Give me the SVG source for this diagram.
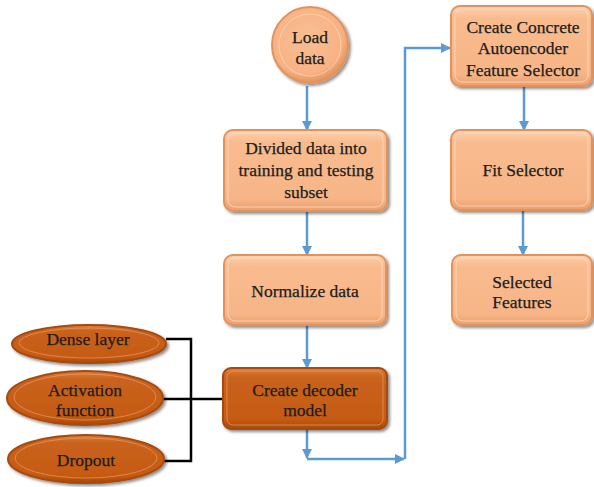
<svg xmlns="http://www.w3.org/2000/svg" width="594" height="487" viewBox="0 0 594 487">
<defs>
<linearGradient id="lg" x1="0" y1="0" x2="0" y2="1">
<stop offset="0" stop-color="#FDD3B2"/>
<stop offset="0.15" stop-color="#F9BB8E"/>
<stop offset="0.85" stop-color="#F7B587"/>
<stop offset="1" stop-color="#E99E6C"/>
</linearGradient>
<linearGradient id="dg" x1="0" y1="0" x2="0" y2="1">
<stop offset="0" stop-color="#E0803F"/>
<stop offset="0.15" stop-color="#C9631E"/>
<stop offset="0.85" stop-color="#C55A11"/>
<stop offset="1" stop-color="#A54A0C"/>
</linearGradient>
<radialGradient id="cg" cx="0.45" cy="0.4" r="0.6">
<stop offset="0" stop-color="#F9BE93"/>
<stop offset="0.8" stop-color="#F7B284"/>
<stop offset="1" stop-color="#E0925C"/>
</radialGradient>
<filter id="sh" x="-10%" y="-10%" width="125%" height="130%">
<feGaussianBlur in="SourceAlpha" stdDeviation="1.5"/>
<feOffset dx="1.5" dy="2" result="b"/>
<feComponentTransfer><feFuncA type="linear" slope="0.45"/></feComponentTransfer>
<feMerge><feMergeNode/><feMergeNode in="SourceGraphic"/></feMerge>
</filter>
<marker id="ah" viewBox="0 0 10 10" refX="9" refY="5" markerWidth="4" markerHeight="4" orient="auto">
<path d="M0,0 L10,5 L0,10 z" fill="#5B9BD5"/>
</marker>
</defs>
<style>
.lb{fill:url(#lg);stroke:#E4925A;stroke-width:2;filter:url(#sh)}
.db{fill:url(#dg);stroke:#A8490B;stroke-width:2;filter:url(#sh)}
.hl{fill:none;stroke:#FFE3CC;stroke-width:1;opacity:0.7}
.hd{fill:none;stroke:#E99A66;stroke-width:1;opacity:0.7}
.t{font-family:'Liberation Serif','Times New Roman',serif;font-size:17.5px;fill:#1c1c1c;stroke:#1c1c1c;stroke-width:0.25;text-anchor:middle}
.bl{fill:none;stroke:#5B9BD5;stroke-width:2.5;marker-end:url(#ah)}
.bk{fill:none;stroke:#000;stroke-width:2.5}
</style>
<g id="connectors">
<line class="bl" x1="307" y1="86" x2="307" y2="130"/>
<line class="bl" x1="307" y1="211" x2="307" y2="255"/>
<line class="bl" x1="307" y1="325" x2="307" y2="368"/>
<polyline class="bl" points="307,429 307,458"/>
<polyline class="bl" points="307,459 404,459"/>
<polyline class="bl" points="405,459 405,48 450,48"/>
<line class="bl" x1="524" y1="86" x2="524" y2="130"/>
<line class="bl" x1="523" y1="210" x2="523" y2="255"/>
<polyline class="bk" points="166,339 191,339 191,461 163,461"/>
<line class="bk" x1="163" y1="399" x2="223" y2="399"/>
</g>
<g id="load-data">
<circle cx="310" cy="45" r="38" fill="url(#cg)" stroke="#E4925A" stroke-width="2" filter="url(#sh)"/>
<circle cx="310" cy="45" r="31" fill="none" stroke="#FFDDC2" stroke-width="1" opacity="0.6"/>
<text class="t" x="310" y="43">Load</text>
<text class="t" x="310" y="64">data</text>
</g>
<g id="divided">
<rect class="lb" x="224" y="130" width="163" height="81" rx="9"/>
<rect class="hl" x="228" y="133" width="155" height="74" rx="7"/>
<text class="t" x="306" y="154">Divided data into</text>
<text class="t" x="306" y="176">training and testing</text>
<text class="t" x="306" y="198">subset</text>
</g>
<g id="normalize">
<rect class="lb" x="224" y="255" width="162" height="70" rx="9"/>
<rect class="hl" x="228" y="258" width="154" height="63" rx="7"/>
<text class="t" x="305" y="297">Normalize data</text>
</g>
<g id="decoder">
<rect class="db" x="223" y="368" width="164" height="61" rx="8"/>
<rect class="hd" x="227" y="371" width="156" height="54" rx="6"/>
<text class="t" x="305" y="396">Create decoder</text>
<text class="t" x="305" y="416">model</text>
</g>
<g id="concrete">
<rect class="lb" x="451" y="6" width="141" height="80" rx="9"/>
<rect class="hl" x="455" y="9" width="133" height="73" rx="7"/>
<text class="t" x="523" y="33">Create Concrete</text>
<text class="t" x="523" y="54">Autoencoder</text>
<text class="t" x="523" y="76">Feature Selector</text>
</g>
<g id="fit">
<rect class="lb" x="451" y="130" width="141" height="80" rx="9"/>
<rect class="hl" x="455" y="133" width="133" height="73" rx="7"/>
<text class="t" x="523" y="176">Fit Selector</text>
</g>
<g id="selected">
<rect class="lb" x="452" y="255" width="140" height="70" rx="9"/>
<rect class="hl" x="456" y="258" width="132" height="63" rx="7"/>
<text class="t" x="522" y="288">Selected</text>
<text class="t" x="522" y="308">Features</text>
</g>
<g id="dense">
<ellipse class="db" cx="89" cy="344" rx="77" ry="19"/>
<ellipse class="hd" cx="89" cy="343" rx="70" ry="15"/>
<text class="t" x="88" y="345">Dense layer</text>
</g>
<g id="activation">
<ellipse class="db" cx="85" cy="398" rx="78" ry="27"/>
<ellipse class="hd" cx="85" cy="397" rx="71" ry="23"/>
<text class="t" x="85" y="396">Activation</text>
<text class="t" x="85" y="416">function</text>
</g>
<g id="dropout">
<ellipse class="db" cx="86" cy="459" rx="78" ry="24"/>
<ellipse class="hd" cx="86" cy="458" rx="71" ry="20"/>
<text class="t" x="86" y="466">Dropout</text>
</g>
</svg>
